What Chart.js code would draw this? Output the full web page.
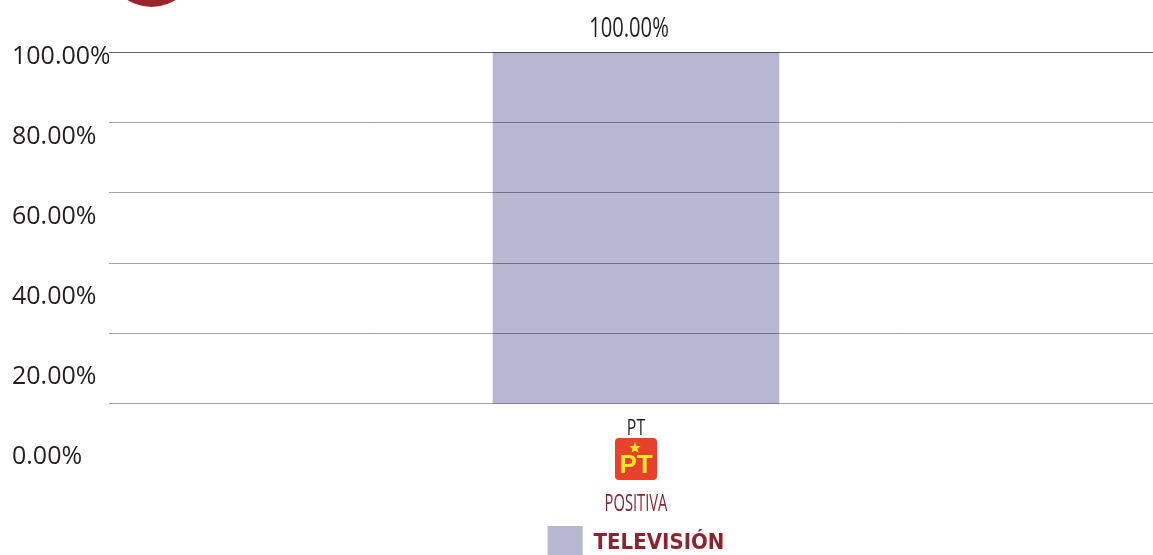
<!DOCTYPE html>
<html lang="es">
<head>
<meta charset="UTF-8">
<title>Televisión - PT</title>
<style>
  html, body { margin: 0; padding: 0; background: #fff; overflow: hidden; }
  #wrap { position: relative; width: 1163px; height: 571px; }
  #badge {
    position: absolute; left: 107px; top: -82px; width: 89px; height: 89px;
    border-radius: 50%; background: #98262c; z-index: 2;
  }
</style>
<script src="https://cdn.jsdelivr.net/npm/chart.js"></script>
</head>
<body>
<div id="badge"></div>
<div id="wrap"><canvas id="chart"></canvas></div>
<script>
const categories = ['PT'];
const sentiments = ['POSITIVA'];
const seriesLabel = 'TELEVISIÓN';
const values = [100];
const yTicks = [0, 20, 40, 60, 80, 100];

const pct = v => Number(v).toFixed(2) + '%';
const darkRed = '#8b2431';

// squeeze text horizontally to get a condensed look
function condensedText(ctx, text, x, y, sx) {
  ctx.save();
  ctx.translate(x, y);
  ctx.scale(sx, 1);
  ctx.fillText(text, 0, 0);
  ctx.restore();
}

function drawStar(ctx, cx, cy, r) {
  ctx.beginPath();
  for (let i = 0; i < 10; i++) {
    const rad = i % 2 === 0 ? r : r * 0.42;
    const a = -Math.PI / 2 + i * Math.PI / 5;
    ctx.lineTo(cx + rad * Math.cos(a), cy + rad * Math.sin(a));
  }
  ctx.closePath();
  ctx.fill();
}

function drawLogo(ctx, cx, top) {
  const size = 42;
  ctx.fillStyle = '#e6412d';
  ctx.beginPath();
  ctx.roundRect(cx - size / 2, top, size, size, 4);
  ctx.fill();
  ctx.fillStyle = '#f4e81c';
  drawStar(ctx, cx - 1, top + 10, 6);
  ctx.font = "bold 26px 'Liberation Sans', Arial, sans-serif";
  ctx.textAlign = 'center';
  ctx.textBaseline = 'alphabetic';
  ctx.fillText('PT', cx, top + 35);
}

const annotations = {
  id: 'annotations',
  afterDraw(chart) {
    const ctx = chart.ctx;
    const base = chart.scales.y2.getPixelForValue(0);
    const meta = chart.getDatasetMeta(0);
    ctx.save();
    meta.data.forEach((bar, i) => {
      const x = chart.scales.x.getPixelForValue(i);
      ctx.textAlign = 'center';
      ctx.textBaseline = 'middle';
      // value above bar
      ctx.fillStyle = '#231f20';
      ctx.font = "28px 'Open Sans', sans-serif";
      condensedText(ctx, pct(values[i]), bar.x - 7, bar.y - 23, 0.72);
      // party name
      ctx.font = "22px 'Open Sans', sans-serif";
      condensedText(ctx, categories[i], x, base + 25, 0.72);
      drawLogo(ctx, x, base + 34);
      ctx.textAlign = 'center';
      ctx.textBaseline = 'middle';
      ctx.fillStyle = darkRed;
      ctx.font = "23px 'Open Sans', sans-serif";
      condensedText(ctx, sentiments[i], x, base + 100, 0.64);
    });
    ctx.restore();
  }
};

new Chart(document.getElementById('chart'), {
  type: 'bar',
  data: {
    labels: categories,
    datasets: [{
      label: seriesLabel,
      data: values,
      yAxisID: 'y2',
      backgroundColor: '#b5b8d0',
      borderWidth: 0,
      barThickness: 286
    }]
  },
  options: {
    responsive: true,
    maintainAspectRatio: false,
    animation: false,
    devicePixelRatio: 1,
    layout: { padding: { left: 12, top: 52, right: 0, bottom: 0 } },
    plugins: {
      legend: {
        position: 'bottom',
        fullSize: false,
        labels: {
          boxWidth: 35,
          boxHeight: 35,
          padding: 69,
          color: darkRed,
          font: { family: "'DejaVu Sans Condensed', 'Liberation Sans', sans-serif", size: 22, weight: 'bold' }
        }
      },
      tooltip: { enabled: false }
    },
    scales: {
      x: { display: false },
      y: {
        position: 'left',
        min: 0,
        max: 101.25,
        afterBuildTicks: s => { s.ticks = yTicks.map(v => ({ value: v })); },
        afterFit: s => { s.width = 97; },
        grid: { display: false },
        border: { display: false },
        ticks: {
          crossAlign: 'far',
          color: '#231f20',
          font: { family: "'Open Sans', sans-serif", size: 25 },
          callback: v => pct(v)
        }
      },
      y2: {
        position: 'right',
        min: -15.06,
        max: 100,
        afterBuildTicks: s => { s.ticks = yTicks.map(v => ({ value: v })); },
        afterFit: s => { s.width = 0; },
        ticks: { display: false },
        border: { display: false },
        grid: {
          z: 1,
          drawTicks: false,
          color: c => (c.tick && c.tick.value === 100) ? 'rgba(0,0,0,0.6)' : 'rgba(0,0,0,0.36)'
        }
      }
    }
  },
  plugins: [annotations]
});
</script>
</body>
</html>
